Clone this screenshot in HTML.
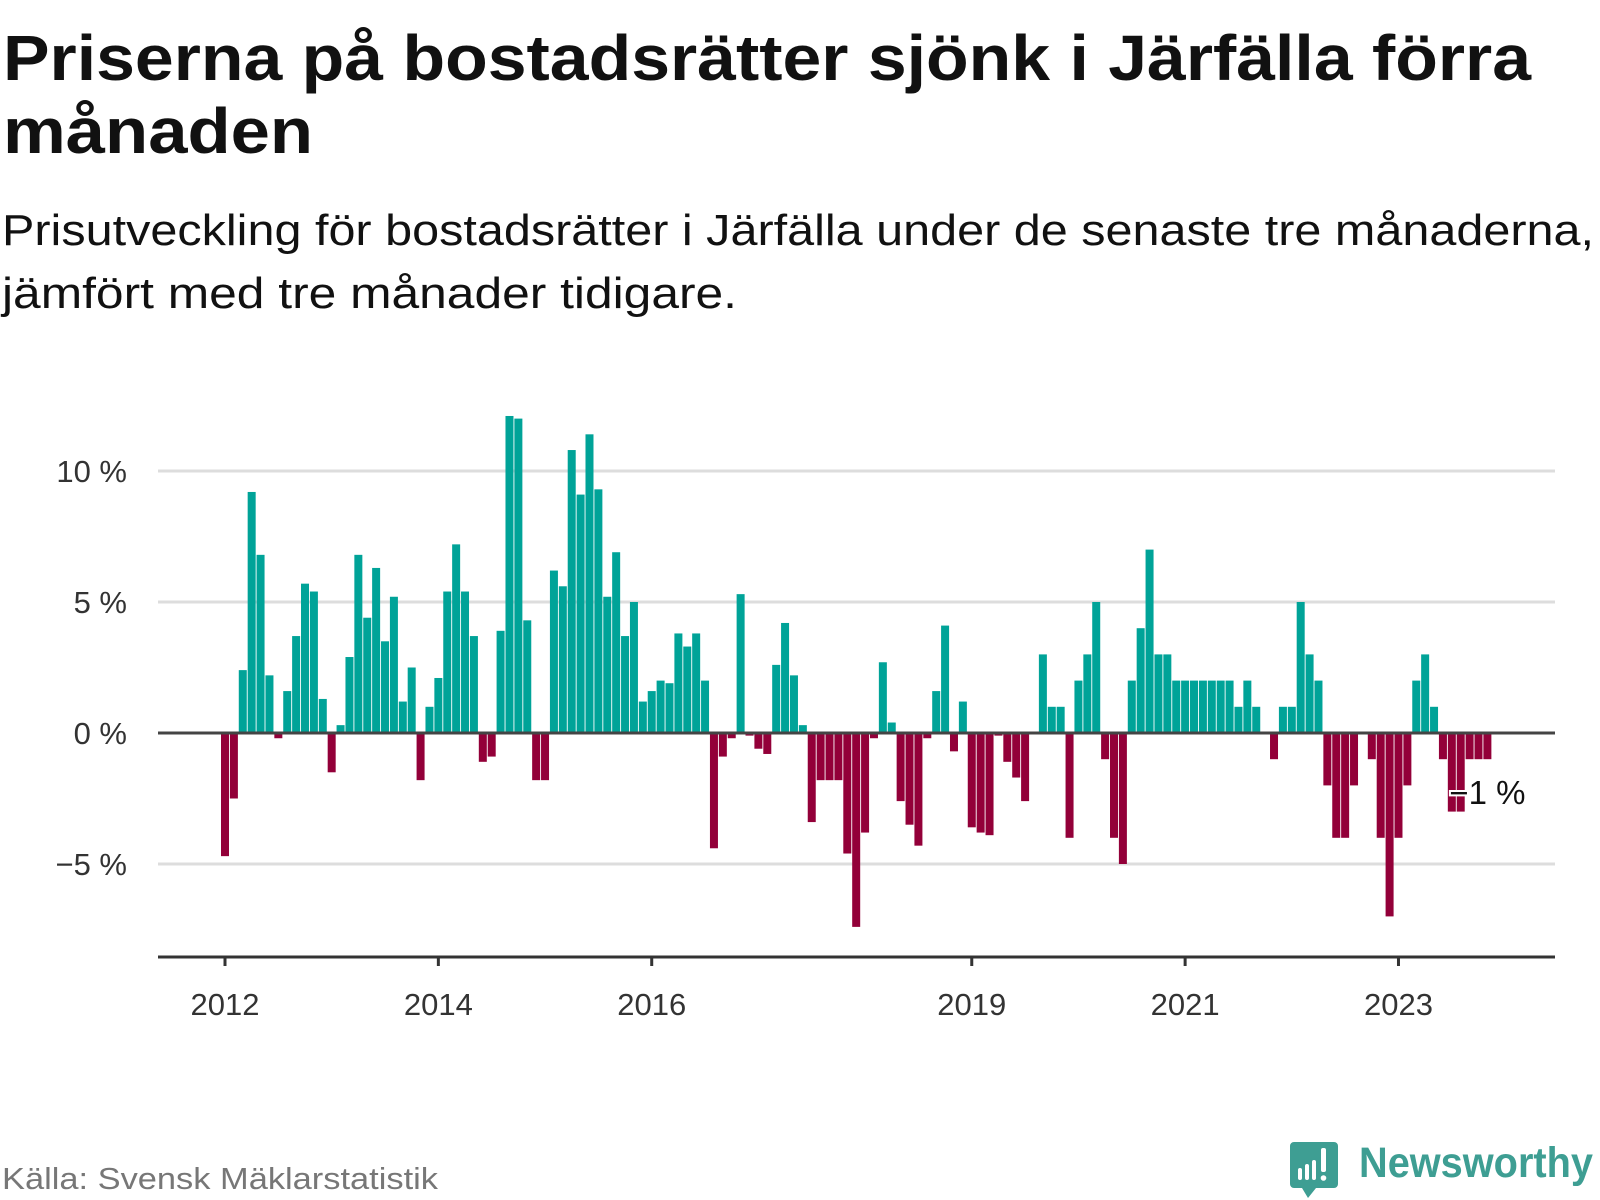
<!DOCTYPE html>
<html><head><meta charset="utf-8"><style>
html,body{margin:0;padding:0;background:#fff;}
svg{display:block;font-family:"Liberation Sans",sans-serif;}
</style></head><body>
<svg id="chart" width="1600" height="1200" viewBox="0 0 1600 1200" xmlns="http://www.w3.org/2000/svg">
<text x="3" y="80" font-size="64" font-weight="bold" fill="#111" textLength="1528" lengthAdjust="spacingAndGlyphs">Priserna på bostadsrätter sjönk i Järfälla förra</text>
<text x="3" y="153" font-size="64" font-weight="bold" fill="#111" textLength="310" lengthAdjust="spacingAndGlyphs">månaden</text>
<text x="2" y="245" font-size="44" fill="#111" textLength="1592" lengthAdjust="spacingAndGlyphs">Prisutveckling för bostadsrätter i Järfälla under de senaste tre månaderna,</text>
<text x="2" y="308" font-size="44" fill="#111" textLength="735" lengthAdjust="spacingAndGlyphs">jämfört med tre månader tidigare.</text>
<g id="grid"></g>
<g id="bars"></g>
<g id="axes"></g>
<text x="2" y="1189" font-size="31" fill="#777" textLength="436" lengthAdjust="spacingAndGlyphs">Källa: Svensk Mäklarstatistik</text>
<g>
<path d="M1294 1142 h40 a4 4 0 0 1 4 4 v38 a4 4 0 0 1 -4 4 h-18 l-8 10 l-6 -10 h-8 a4 4 0 0 1 -4 -4 v-38 a4 4 0 0 1 4 -4z" fill="#3e9e93"/>
<rect x="1298" y="1168" width="4" height="12" fill="#fff" rx="2"/>
<rect x="1305" y="1164" width="4" height="16" fill="#fff" rx="2"/>
<rect x="1312" y="1160" width="4" height="20" fill="#fff" rx="2"/>
<rect x="1321" y="1148" width="5" height="24" fill="#fff" rx="2"/>
<circle cx="1323.5" cy="1178" r="2.8" fill="#fff"/>
<text x="1359" y="1177" font-size="43" font-weight="bold" fill="#3e9e93" textLength="234" lengthAdjust="spacingAndGlyphs">Newsworthy</text>
</g>
</svg>
<script>
const values = [
-4.7,-2.5,2.4,9.2,6.8,2.2,-0.2,1.6,3.7,5.7,5.4,1.3,
-1.5,0.3,2.9,6.8,4.4,6.3,3.5,5.2,1.2,2.5,-1.8,1.0,
2.1,5.4,7.2,5.4,3.7,-1.1,-0.9,3.9,12.1,12.0,4.3,-1.8,
-1.8,6.2,5.6,10.8,9.1,11.4,9.3,5.2,6.9,3.7,5.0,1.2,
1.6,2.0,1.9,3.8,3.3,3.8,2.0,-4.4,-0.9,-0.2,5.3,-0.1,
-0.6,-0.8,2.6,4.2,2.2,0.3,-3.4,-1.8,-1.8,-1.8,-4.6,-7.4,
-3.8,-0.2,2.7,0.4,-2.6,-3.5,-4.3,-0.2,1.6,4.1,-0.7,1.2,
-3.6,-3.8,-3.9,-0.1,-1.1,-1.7,-2.6,0,3.0,1.0,1.0,-4.0,
2.0,3.0,5.0,-1.0,-4.0,-5.0,2.0,4.0,7.0,3.0,3.0,2.0,
2.0,2.0,2.0,2.0,2.0,2.0,1.0,2.0,1.0,0,-1.0,1.0,
1.0,5.0,3.0,2.0,-2.0,-4.0,-4.0,-2.0,0,-1.0,-4.0,-7.0,
-4.0,-2.0,2.0,3.0,1.0,-1.0,-3.0,-3.0,-1.0,-1.0,-1.0
];
const startYear = 2012;
const yTicks = [-5, 0, 5, 10];
const yTickLabels = ["\u22125 %", "0 %", "5 %", "10 %"];
const xTickYears = [2012, 2014, 2016, 2019, 2021, 2023];
const lastLabel = "\u22121 %";

const NS = "http://www.w3.org/2000/svg";
const plotLeft = 158, plotRight = 1555, zeroY = 733, pxPerPct = 26.2, axisY = 957;
const monthPx = 8.89, x0 = 225;
function xScale(i){ return x0 + i * monthPx; }
function yScale(v){ return zeroY - v * pxPerPct; }
function mk(tag, attrs, parent){
  const el = document.createElementNS(NS, tag);
  for (const k in attrs) el.setAttribute(k, attrs[k]);
  parent.appendChild(el);
  return el;
}
const grid = document.getElementById('grid');
const barsG = document.getElementById('bars');
const axes = document.getElementById('axes');

yTicks.forEach((t, k) => {
  const y = yScale(t);
  if (t !== 0) {
    const l = mk('line', {x1: plotLeft, x2: plotRight, y1: y, y2: y, stroke: '#dddddd', 'stroke-width': 3}, grid);
    
    
  }
  const tx = mk('text', {x: 127, y: y + 11, 'text-anchor': 'end', 'font-size': 31, fill: '#333'}, axes);
  tx.textContent = yTickLabels[k];
  
  
});

values.forEach((v, i) => {
  if (v === 0) return;
  const cx = xScale(i);
  const y = v > 0 ? yScale(v) : zeroY;
  const h = Math.abs(yScale(v) - zeroY);
  const r = mk('rect', {x: cx - 4, y: y, width: 8, height: h, fill: v > 0 ? '#00a398' : '#930039'}, barsG);
  
  
});

const zl = mk('line', {x1: plotLeft, x2: plotRight, y1: zeroY, y2: zeroY, stroke: '#444', 'stroke-width': 3}, axes);


const xa = mk('line', {x1: plotLeft, x2: plotRight, y1: axisY, y2: axisY, stroke: '#333', 'stroke-width': 3}, axes);



xTickYears.forEach(yr => {
  const x = xScale((yr - startYear) * 12);
  const tk = mk('line', {x1: x, x2: x, y1: axisY, y2: axisY + 9, stroke: '#333', 'stroke-width': 3}, axes);
  
  
  const tx = mk('text', {x: x, y: 1015, 'text-anchor': 'middle', 'font-size': 31, fill: '#333'}, axes);
  tx.textContent = String(yr);
  
  
});

const lastIdx = values.length - 1;
const lbl = mk('text', {x: xScale(lastIdx) - 38, y: yScale(values[lastIdx]) + 45, 'font-size': 33, fill: '#111', stroke: '#fff', 'stroke-width': 4, 'paint-order': 'stroke'}, axes);
lbl.textContent = lastLabel;


</script>
</body></html>
